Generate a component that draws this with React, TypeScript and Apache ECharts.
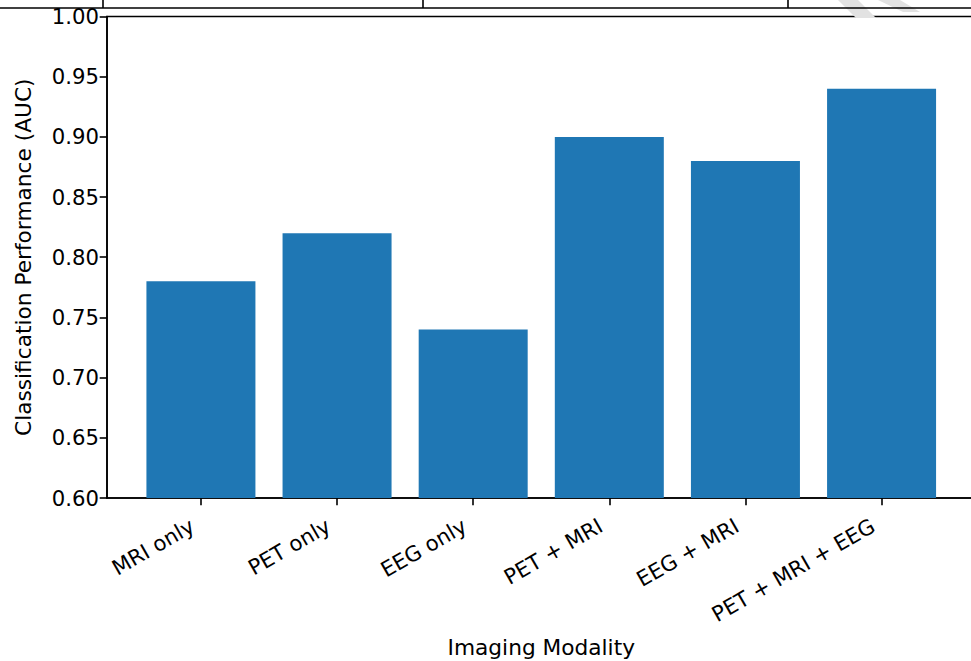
import React, { useEffect, useRef } from "react";
import * as echarts from "echarts";

const categories = ["MRI only", "PET only", "EEG only", "PET + MRI", "EEG + MRI", "PET + MRI + EEG"];
const aucValues = [0.78, 0.82, 0.74, 0.9, 0.88, 0.94];
const yTicks = [0.6, 0.65, 0.7, 0.75, 0.8, 0.85, 0.9, 0.95, 1.0];
const xLabel = "Imaging Modality";
const yLabel = "Classification Performance (AUC)";

const FONT = "DejaVu Sans";
const FS = 21.2;
const LFS = 21.7;

export default function App() {
  const ref = useRef<HTMLDivElement>(null);
  useEffect(() => {
    document.body.style.margin = "0";
    if (!ref.current) return;
    const chart = echarts.init(ref.current, null, { renderer: "svg" });
    const idx = categories.map((_, i) => i);
    chart.setOption({
      animation: false,
      backgroundColor: "#fff",
      grid: {
        left: 107,
        top: 16.5,
        width: 868.5,
        height: 481.5,
        outerBoundsMode: "none",
        containLabel: false,
        show: true,
        borderColor: "#000",
        borderWidth: 1.6,
        backgroundColor: "transparent",
      },
      xAxis: {
        type: "value",
        min: -0.69,
        max: 5.69,
        name: xLabel,
        nameLocation: "middle",
        nameGap: 138,
        nameTextStyle: { fontFamily: FONT, fontSize: LFS, color: "#000" },
        axisLine: { show: true, onZero: false, lineStyle: { color: "#000", width: 1.6 } },
        axisTick: { show: true, length: 7.3, lineStyle: { color: "#000", width: 1.6 }, customValues: idx },
        axisLabel: {
          customValues: idx,
          rotate: 30,
          margin: 21,
          padding: [0, 10, 0, 0],
          fontFamily: FONT,
          fontSize: FS,
          color: "#000",
          formatter: (v: number) => categories[Math.round(v)] ?? "",
        },
        splitLine: { show: false },
      },
      yAxis: {
        type: "value",
        min: yTicks[0],
        max: yTicks[yTicks.length - 1],
        interval: 0.05,
        name: yLabel,
        nameLocation: "middle",
        nameGap: 73,
        nameTextStyle: { fontFamily: FONT, fontSize: LFS, color: "#000" },
        axisLine: { show: true, onZero: false, lineStyle: { color: "#000", width: 1.6 } },
        axisTick: { show: true, length: 7.3, lineStyle: { color: "#000", width: 1.6 } },
        axisLabel: {
          margin: 8,
          fontFamily: FONT,
          fontSize: FS,
          color: "#000",
          formatter: (v: number) => v.toFixed(2),
        },
        splitLine: { show: false },
      },
      series: [
        {
          type: "bar",
          data: aucValues.map((v, i) => [i, v]),
          barWidth: 109,
          itemStyle: { color: "#1f77b4" },
        },
      ],
      graphic: [
        { type: "polygon", shape: { points: [[838, 0], [858, 0], [876, 18], [856, 18]] }, style: { fill: "#e2e2e2" } },
        { type: "polygon", shape: { points: [[878, 0], [900, 0], [920, 12], [903, 12]] }, style: { fill: "#e2e2e2" } },
        { type: "line", shape: { x1: 0, y1: 8, x2: 971, y2: 8 }, style: { stroke: "#000", lineWidth: 1.6 } },
        { type: "line", shape: { x1: 103, y1: 0, x2: 103, y2: 8 }, style: { stroke: "#000", lineWidth: 1.6 } },
        { type: "line", shape: { x1: 423, y1: 0, x2: 423, y2: 8 }, style: { stroke: "#000", lineWidth: 1.6 } },
        { type: "line", shape: { x1: 788, y1: 0, x2: 788, y2: 8 }, style: { stroke: "#000", lineWidth: 1.6 } },
      ],
    });
    return () => chart.dispose();
  }, []);
  return <div ref={ref} style={{ width: 971, height: 661 }} />;
}
